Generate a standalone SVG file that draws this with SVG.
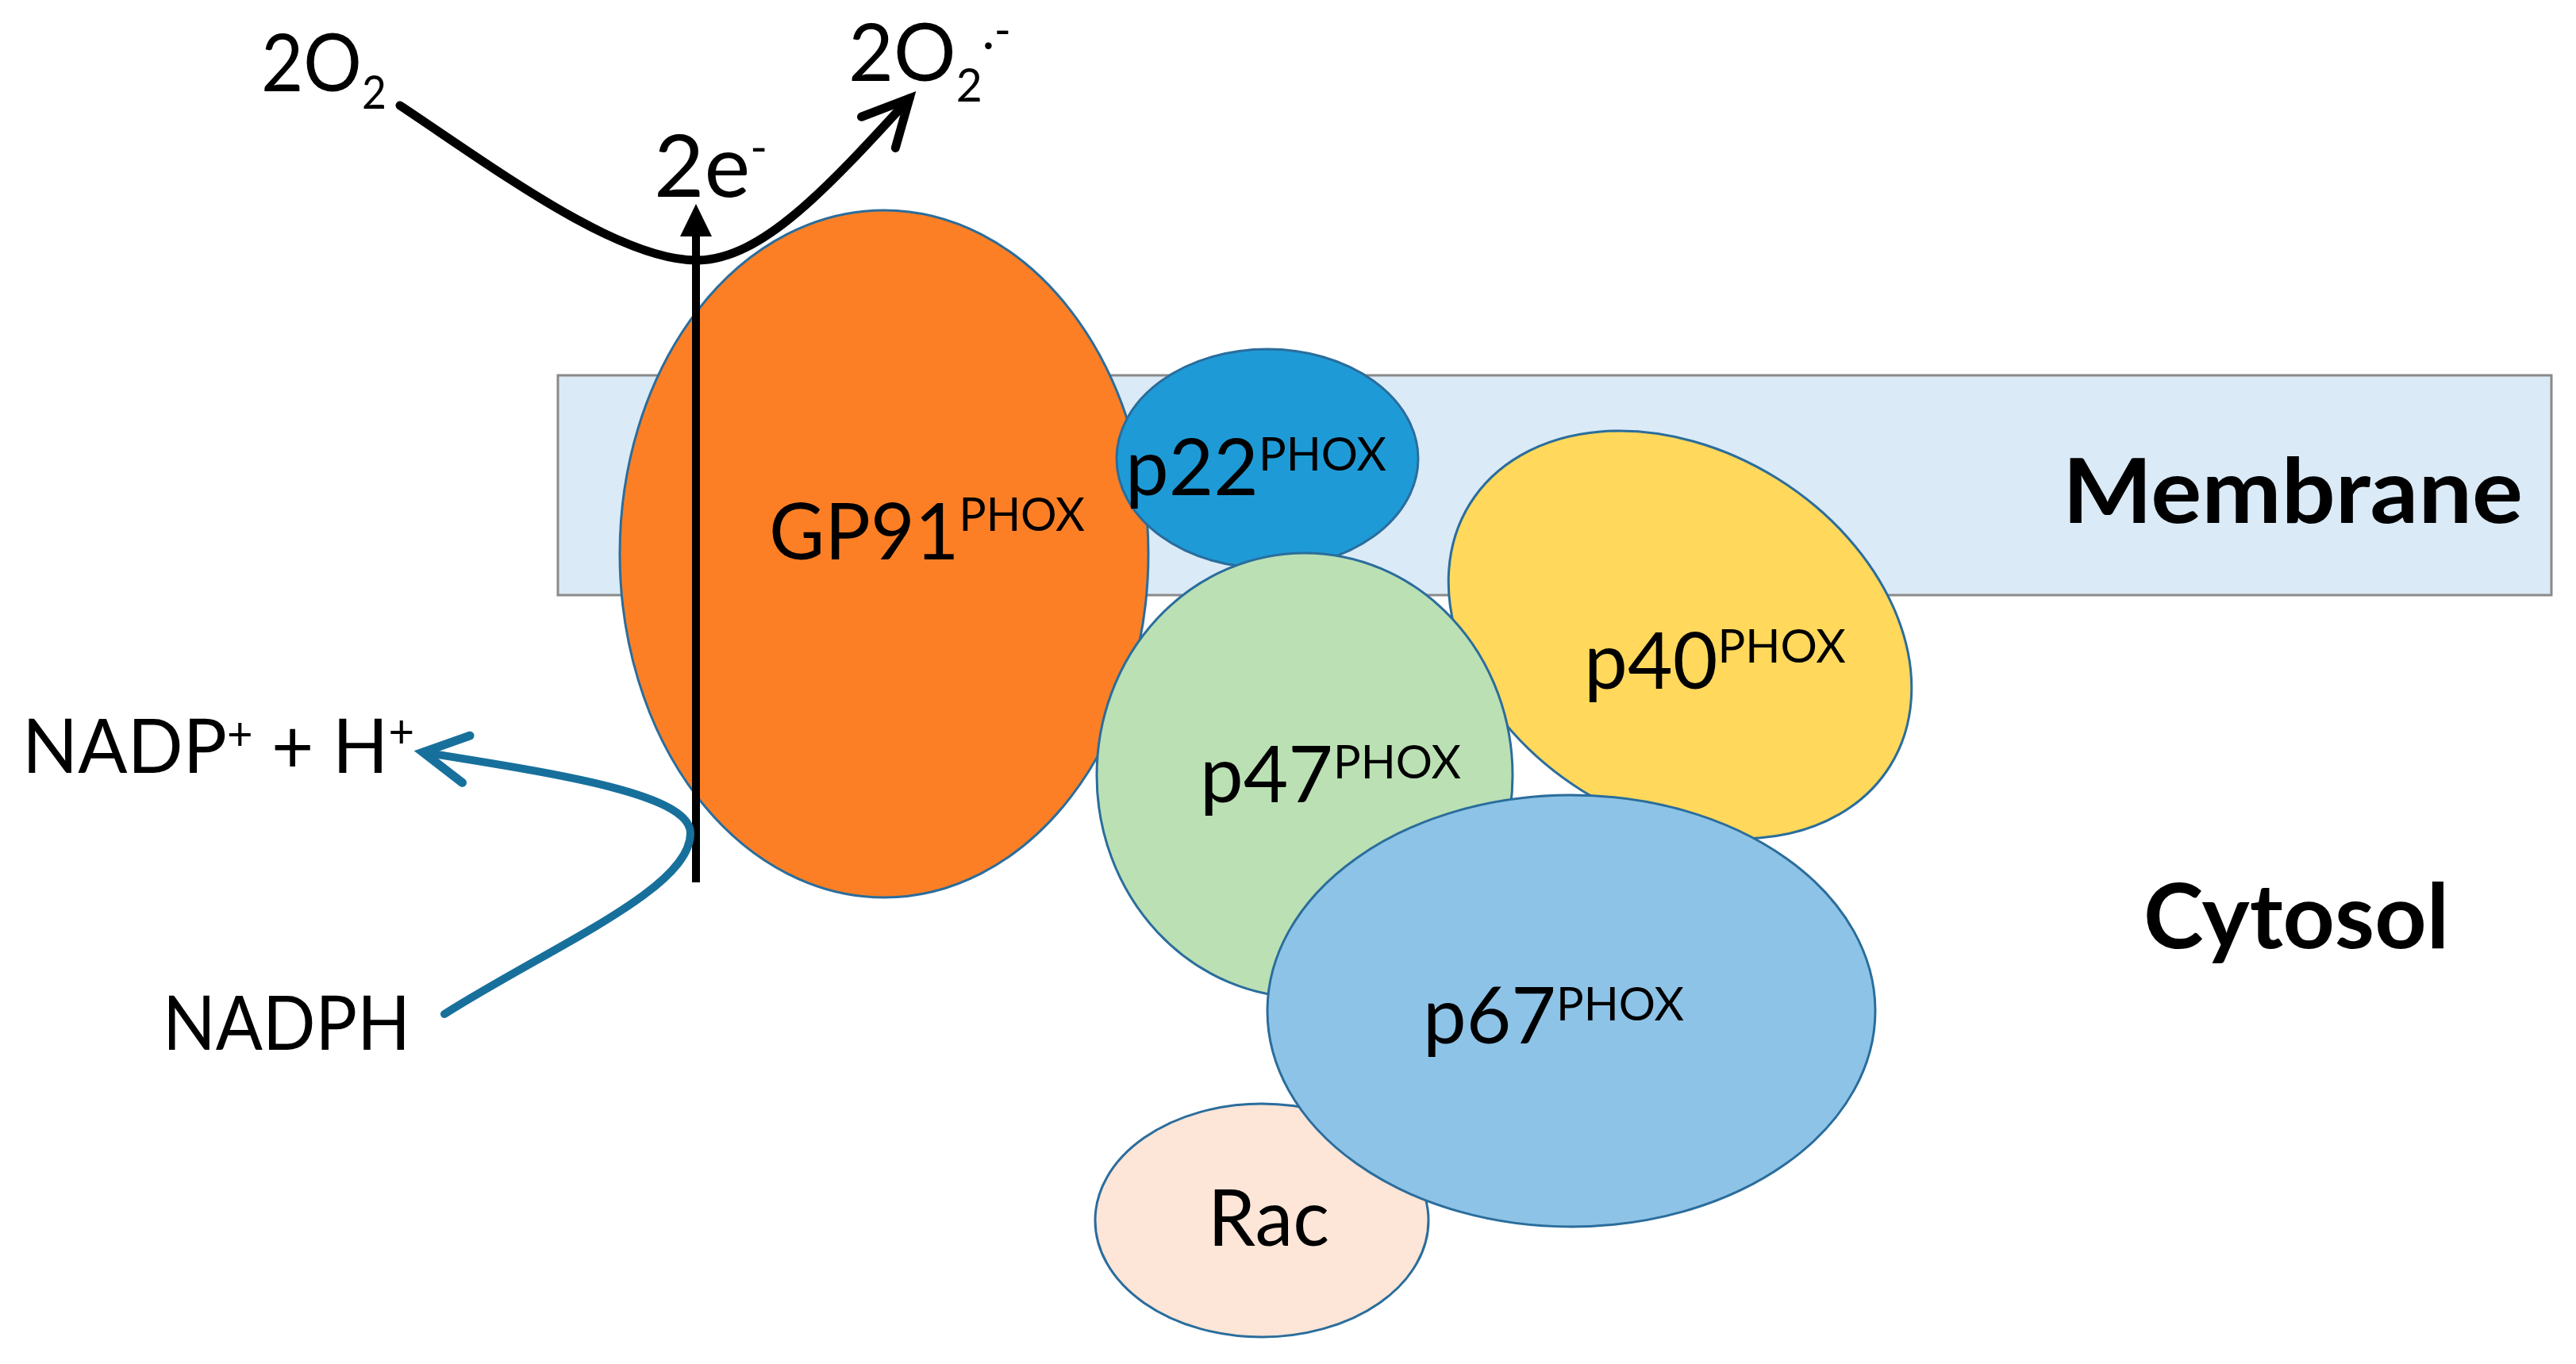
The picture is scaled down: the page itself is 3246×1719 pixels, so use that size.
<svg xmlns="http://www.w3.org/2000/svg" width="3246" height="1719" viewBox="0 0 3246 1719">
<style>
text{font-family:Lato,"Liberation Sans",sans-serif;fill:#000}
.lbl{font-size:98px}
.sup{font-size:58px}
.bold{font-weight:bold;font-size:113px}
.node ellipse{stroke:#2a6d9c;stroke-width:3}
</style>
<defs>
<marker id="hb" markerUnits="userSpaceOnUse" markerWidth="140" markerHeight="140" viewBox="-70 -70 140 140" refX="0" refY="0" orient="auto">
<path d="M-58,-29 L0,0 L-58,29" fill="none" stroke="#000" stroke-width="11" stroke-linecap="round" stroke-linejoin="miter"/>
</marker>
<marker id="ht" markerUnits="userSpaceOnUse" markerWidth="140" markerHeight="140" viewBox="-70 -70 140 140" refX="0" refY="0" orient="auto">
<path d="M-55,-30 L0,0 L-55,30" fill="none" stroke="#17709b" stroke-width="11" stroke-linecap="round" stroke-linejoin="miter"/>
</marker>
</defs>
<rect x="0" y="0" width="3246" height="1719" fill="#fff"/>
<g id="membrane">
<rect x="703" y="473" width="2512" height="277" fill="#daeaf6" stroke="#8a8a8a" stroke-width="3"/>
<text class="bold" x="2599" y="659" textLength="580" lengthAdjust="spacingAndGlyphs">Membrane</text>
</g>
<g id="cytosol">
<text class="bold" x="2701" y="1195" textLength="385" lengthAdjust="spacingAndGlyphs">Cytosol</text>
</g>
<g id="gp91" class="node">
<ellipse cx="1114" cy="698" rx="333" ry="433" fill="#fd7f25"/>
<text class="lbl" x="969" y="705" textLength="398" lengthAdjust="spacingAndGlyphs">GP91<tspan class="sup" dy="-36">PHOX</tspan></text>
</g>
<g id="p22" class="node">
<ellipse cx="1597" cy="578" rx="190" ry="138" fill="#1e9bd7"/>
<text class="lbl" x="1418" y="624" textLength="329" lengthAdjust="spacingAndGlyphs">p22<tspan class="sup" dy="-31">PHOX</tspan></text>
</g>
<g id="rac" class="node">
<ellipse cx="1590" cy="1538" rx="210" ry="147" fill="#fde5d7"/>
<text class="lbl" x="1522" y="1570" textLength="153" lengthAdjust="spacingAndGlyphs">Rac</text>
</g>
<g id="p40" class="node">
<ellipse cx="2117" cy="800" rx="312" ry="232" transform="rotate(32 2117 800)" fill="#ffd85c"/>
<text class="lbl" x="1996" y="868" textLength="330" lengthAdjust="spacingAndGlyphs">p40<tspan class="sup" dy="-33">PHOX</tspan></text>
</g>
<g id="p47" class="node">
<ellipse cx="1644" cy="977" rx="262" ry="280" fill="#bbe0b4"/>
<text class="lbl" x="1512" y="1011" textLength="329" lengthAdjust="spacingAndGlyphs">p47<tspan class="sup" dy="-30">PHOX</tspan></text>
</g>
<g id="p67" class="node">
<ellipse cx="1980" cy="1274" rx="383" ry="272" fill="#8dc3e6"/>
<text class="lbl" x="1793" y="1315" textLength="329" lengthAdjust="spacingAndGlyphs">p67<tspan class="sup" dy="-29">PHOX</tspan></text>
</g>
<g id="o2">
<text x="329" y="115" style="font-size:100px" textLength="158" lengthAdjust="spacingAndGlyphs">2O<tspan class="sup" dy="22">2</tspan></text>
</g>
<g id="superoxide">
<text x="1069" y="102" style="font-size:100px" textLength="205" lengthAdjust="spacingAndGlyphs">2O<tspan class="sup" dy="26">2</tspan><tspan class="sup" dy="-53">·</tspan><tspan class="sup" dy="-17">-</tspan></text>
</g>
<g id="electrons">
<text x="824" y="248" style="font-size:108px" textLength="143" lengthAdjust="spacingAndGlyphs">2e<tspan class="sup" dy="-42">-</tspan></text>
</g>
<g id="nadp">
<text class="lbl" style="font-size:95px" x="28" y="974" textLength="494" lengthAdjust="spacingAndGlyphs">NADP<tspan class="sup" dy="-29">+</tspan><tspan dy="29"> + H</tspan><tspan class="sup" dy="-32">+</tspan></text>
</g>
<g id="nadph">
<text class="lbl" style="font-size:95px" x="205" y="1323" textLength="312" lengthAdjust="spacingAndGlyphs">NADPH</text>
</g>
<g id="connectors" fill="none">
<path d="M504,133 C620,210 780,330 880,328 C960,326 1040,240 1146,124" stroke="#000" stroke-width="11" stroke-linecap="round" marker-end="url(#hb)"/>
<line x1="877" y1="1112" x2="877" y2="290" stroke="#000" stroke-width="10"/>
<polygon points="877,257 857,298 897,298" fill="#000"/>
<path d="M560,1278 C700,1190 870,1120 870,1050 C870,1000 700,975 533,948" stroke="#17709b" stroke-width="10" stroke-linecap="round" marker-end="url(#ht)"/>
</g>
</svg>
